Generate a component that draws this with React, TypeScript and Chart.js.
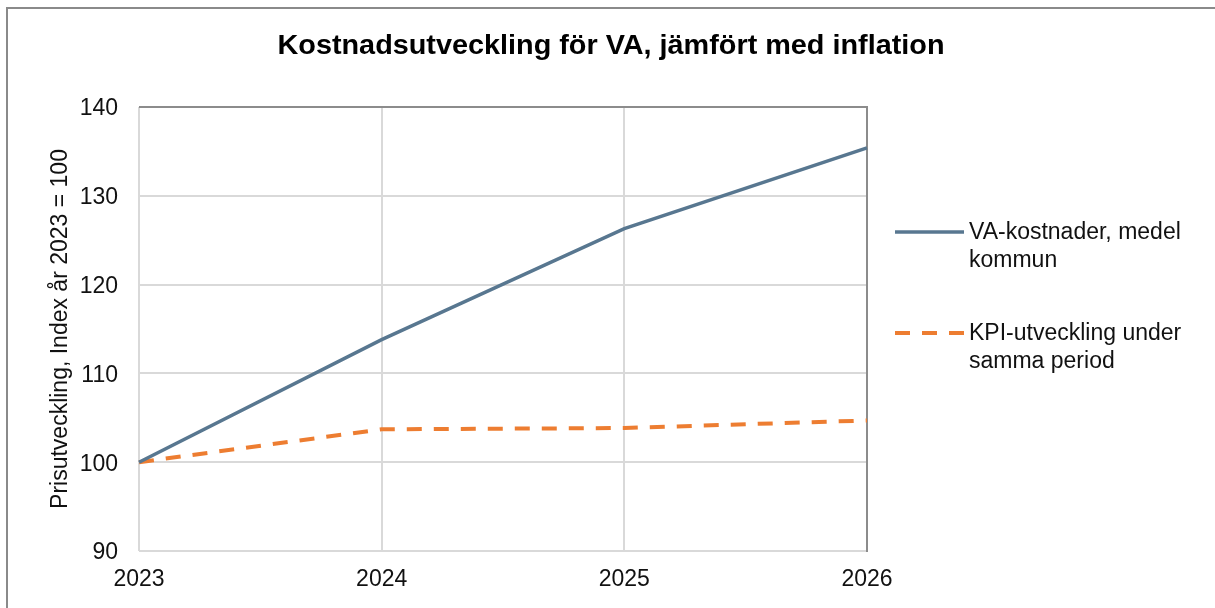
import React, { useEffect, useRef } from "react";
import { Chart, registerables } from "chart.js";

Chart.register(...registerables);

const years = ["2023", "2024", "2025", "2026"];
const vaValues = [100, 113.8, 126.3, 135.4];
const kpiValues = [100, 103.7, 103.85, 104.7];
const seriesLabels = [
  ["VA-kostnader, medel", "kommun"],
  ["KPI-utveckling under", "samma period"],
];
const chartTitle = "Kostnadsutveckling för VA, jämfört med inflation";
const yAxisTitle = "Prisutveckling, Index år 2023 = 100";

const FONT = "'Liberation Sans', Arial, sans-serif";
const TEXT = "#111111";

const decorPlugin = {
  id: "decor",
  beforeDraw(chart: any) {
    const ctx = chart.ctx;
    ctx.save();
    ctx.fillStyle = "#ffffff";
    ctx.fillRect(0, 0, chart.width, chart.height);
    ctx.strokeStyle = "#8a8a8a";
    ctx.lineWidth = 2;
    ctx.strokeRect(7, 8, chart.width + 20, chart.height + 20);
    ctx.restore();
  },
  beforeDatasetsDraw(chart: any) {
    const ctx = chart.ctx;
    const a = chart.chartArea;
    ctx.save();
    ctx.strokeStyle = "#8c8c8c";
    ctx.lineWidth = 2;
    ctx.beginPath();
    ctx.moveTo(a.left, a.top);
    ctx.lineTo(a.right, a.top);
    ctx.lineTo(a.right, a.bottom + 1);
    ctx.stroke();
    ctx.restore();
  },
  afterDraw(chart: any) {
    const ctx = chart.ctx;
    const a = chart.chartArea;
    ctx.save();
    // title
    ctx.font = `bold 28px 'Liberation Sans Narrow', ${FONT}`;
    ctx.fillStyle = "#000";
    ctx.textBaseline = "middle";
    ctx.textAlign = "left";
    const w = ctx.measureText(chartTitle).width;
    const target = 667;
    const sx = target / w;
    ctx.save();
    ctx.translate(611 - target / 2, 46);
    ctx.scale(sx, 1);
    ctx.fillText(chartTitle, 0, 0);
    ctx.restore();
    // y axis title
    ctx.save();
    ctx.font = `23px ${FONT}`;
    ctx.fillStyle = TEXT;
    ctx.translate(61, (a.top + a.bottom) / 2);
    ctx.rotate(-Math.PI / 2);
    ctx.textAlign = "center";
    ctx.textBaseline = "middle";
    ctx.fillText(yAxisTitle, 0, 0);
    ctx.restore();
    // legend
    const ys = [233, 334];
    chart.data.datasets.forEach((ds: any, i: number) => {
      const y = ys[i];
      ctx.save();
      ctx.strokeStyle = ds.borderColor;
      ctx.lineWidth = ds.borderWidth;
      ctx.setLineDash(ds.borderDash || []);
      ctx.beginPath();
      ctx.moveTo(895, y - 1);
      ctx.lineTo(964, y - 1);
      ctx.stroke();
      ctx.restore();
      ctx.font = `23px ${FONT}`;
      ctx.fillStyle = TEXT;
      ctx.textAlign = "left";
      ctx.textBaseline = "middle";
      const lines = seriesLabels[i];
      lines.forEach((t, j) => ctx.fillText(t, 969, y + j * 28));
    });
    ctx.restore();
  },
};

export default function App() {
  const ref = useRef<HTMLCanvasElement>(null);
  useEffect(() => {
    document.body.style.margin = "0";
    const chart = new Chart(ref.current!, {
      type: "line",
      data: {
        labels: years,
        datasets: [
          {
            label: seriesLabels[0].join(" "),
            data: vaValues,
            borderColor: "#587790",
            borderWidth: 3.5,
            pointRadius: 0,
            tension: 0,
            fill: false,
          },
          {
            label: seriesLabels[1].join(" "),
            data: kpiValues,
            borderColor: "#ed7d31",
            borderWidth: 4,
            borderDash: [15, 12],
            pointRadius: 0,
            tension: 0,
            fill: false,
          },
        ],
      },
      options: {
        responsive: false,
        animation: false,
        layout: { padding: { left: 0, top: 107, right: 348, bottom: 0 } },
        plugins: {
          legend: { display: false },
          title: { display: false },
          tooltip: { enabled: false },
        },
        scales: {
          x: {
            offset: false,
            grid: { color: "#d9d9d9", lineWidth: 2, drawTicks: false },
            border: { display: false },
            ticks: {
              color: TEXT,
              font: { family: FONT, size: 23 },
              padding: 15,
              maxRotation: 0,
            },
            afterFit: (s: any) => {
              s.height = 57;
            },
          },
          y: {
            min: 90,
            max: 140,
            grid: { color: "#d9d9d9", lineWidth: 2, drawTicks: false },
            border: { display: false },
            ticks: {
              stepSize: 10,
              color: TEXT,
              font: { family: FONT, size: 23 },
              padding: 21,
              labelOffset: 2,
            },
            afterFit: (s: any) => {
              s.width = 139;
            },
          },
        },
      },
      plugins: [decorPlugin],
    });
    return () => chart.destroy();
  }, []);
  return (
    <div style={{ width: 1215, height: 608 }}>
      <canvas ref={ref} width={1215} height={608} />
    </div>
  );
}
